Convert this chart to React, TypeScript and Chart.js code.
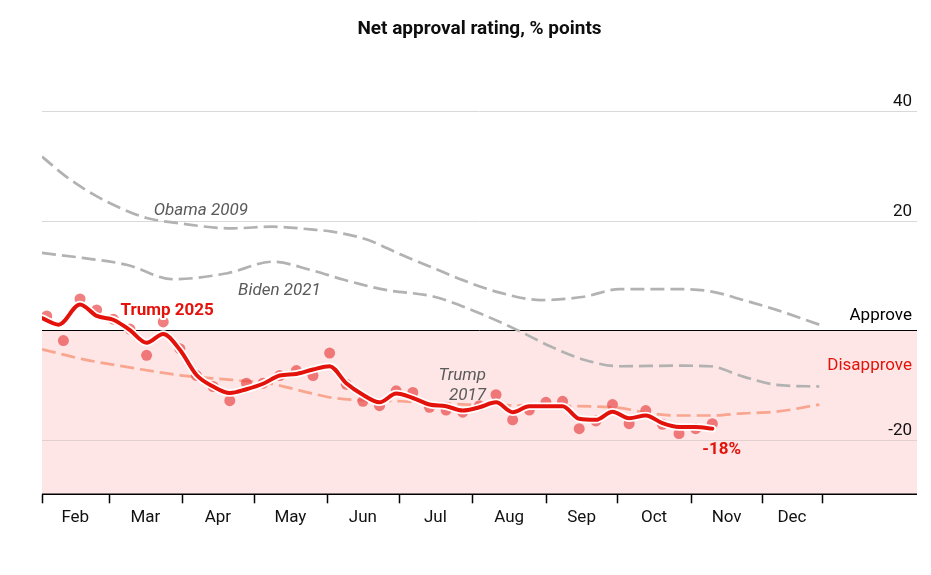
import React, { useEffect, useRef } from "react";
import { Chart, registerables } from "chart.js";

Chart.register(...registerables);

// x values are days counted from 1 February
const monthLabels = ["Feb", "Mar", "Apr", "May", "Jun", "Jul", "Aug", "Sep", "Oct", "Nov", "Dec"];
const monthTickDays = [0, 28, 59, 89, 120, 150, 181, 212, 242, 273, 303, 328];
const yGridValues = [40, 20, -20];
const yTickLabels = ["40", "20", "-20"];

// Trump 2025: weekly poll averages and the smoothed trend
const pollDays = [2, 9, 16, 23, 30, 37, 44, 51, 58, 65, 72, 79, 86, 93, 100, 107, 114, 121, 128, 135, 142, 149, 156, 163, 170, 177, 184, 191, 198, 205, 212, 219, 226, 233, 240, 247, 254, 261, 268, 275, 282];
const trump2025Polls = [2.6, -1.9, 5.7, 3.7, 2.0, 0.2, -4.6, 1.5, -3.4, -8.3, -10.3, -12.9, -9.7, -9.7, -8.3, -7.4, -8.3, -4.2, -9.9, -13.0, -13.8, -11.1, -11.4, -14.1, -14.6, -15.0, -13.8, -11.8, -16.4, -14.6, -13.2, -13.0, -18.0, -16.6, -13.6, -17.1, -14.7, -17.2, -18.9, -18.0, -17.1];
const trendDays = [0, 7, 16, 23, 30, 37, 44, 51, 58, 65, 72, 79, 86, 93, 100, 107, 114, 121, 128, 135, 142, 149, 156, 163, 170, 177, 184, 191, 198, 205, 212, 219, 226, 233, 240, 247, 254, 261, 268, 275, 282];
const trump2025Trend = [2.2, 1.0, 4.7, 2.6, 1.9, 0.0, -2.3, -0.7, -3.6, -8.2, -10.3, -11.5, -10.8, -9.8, -8.3, -8.0, -7.2, -6.6, -9.7, -11.8, -13.2, -11.6, -12.4, -13.6, -13.9, -14.7, -14.1, -13.2, -15.0, -13.9, -13.9, -13.9, -16.2, -16.4, -14.9, -16.1, -15.6, -17.0, -17.7, -17.7, -18.0];

// Earlier first years, same point in the term
const obamaDays = [0, 10, 22, 33, 44, 58, 80, 97, 113, 122, 137, 151, 165, 176, 193, 210, 228, 243, 267, 281, 295, 309, 327];
const obama2009 = [31.7, 28.1, 24.7, 22.3, 20.5, 19.5, 18.6, 18.9, 18.4, 18.0, 16.5, 13.8, 11.3, 9.3, 6.8, 5.5, 6.1, 7.5, 7.5, 7.1, 5.5, 3.7, 1.0];
const bidenDays = [0, 17, 36, 55, 78, 97, 113, 127, 144, 165, 179, 200, 214, 228, 243, 267, 281, 295, 309, 327];
const biden2021 = [14.1, 13.2, 11.9, 9.3, 10.4, 12.5, 11.0, 9.2, 7.4, 6.1, 4.0, 0.0, -3.0, -5.4, -6.6, -6.5, -6.6, -8.5, -10.0, -10.3];
const trump2017Days = [0, 17, 38, 59, 80, 95, 113, 123, 151, 179, 207, 243, 253, 267, 281, 295, 309, 327];
const trump2017 = [-3.5, -5.3, -6.9, -8.3, -9.1, -9.7, -11.5, -12.4, -13.0, -13.6, -13.8, -14.2, -15.0, -15.6, -15.6, -15.2, -14.9, -13.6];

const FONT = "Roboto, 'Liberation Sans', Arial, sans-serif";
const RED = "#e3120b";
const GREY_LINE = "#b2b2b2";
const SALMON = "#f9a58f";
const PINK = "#fde6e5";
const DASH = [14, 6];

const toPoints = (xs: number[], ys: number[]) => xs.map((x, i) => ({ x, y: ys[i] }));

const decorations = {
  id: "decorations",
  beforeDatasetsDraw(chart: any) {
    const { ctx, chartArea, scales } = chart;
    const { left, right, bottom } = chartArea;
    const x = scales.x;
    const y = scales.y;
    const y0 = Math.round(y.getPixelForValue(0));
    ctx.save();

    // disapproval zone
    ctx.fillStyle = PINK;
    ctx.fillRect(left, y0, right - left, bottom - y0);

    // horizontal grid lines and their labels
    ctx.lineWidth = 1;
    ctx.font = `17px ${FONT}`;
    ctx.textAlign = "right";
    ctx.textBaseline = "alphabetic";
    yGridValues.forEach((v, i) => {
      const py = Math.round(y.getPixelForValue(v)) + 0.5;
      ctx.strokeStyle = v < 0 ? "#e2cfd0" : "#d9d9d9";
      ctx.beginPath();
      ctx.moveTo(left, py);
      ctx.lineTo(right, py);
      ctx.stroke();
      ctx.fillStyle = "#111";
      ctx.fillText(yTickLabels[i], right - 5, py - 6);
    });

    // zero line
    ctx.strokeStyle = "#000";
    ctx.beginPath();
    ctx.moveTo(left, y0 + 0.5);
    ctx.lineTo(right, y0 + 0.5);
    ctx.stroke();
    ctx.fillStyle = "#000";
    ctx.fillText("Approve", right - 5, y0 - 10);
    ctx.fillStyle = RED;
    ctx.fillText("Disapprove", right - 5, y0 + 40);

    // x axis line, month ticks and labels
    ctx.strokeStyle = "#000";
    ctx.lineWidth = 1.5;
    ctx.beginPath();
    ctx.moveTo(left, bottom);
    ctx.lineTo(right, bottom);
    ctx.stroke();
    monthTickDays.forEach((d) => {
      const px = Math.round(x.getPixelForValue(d)) + 0.5;
      ctx.beginPath();
      ctx.moveTo(px, bottom);
      ctx.lineTo(px, bottom + 9);
      ctx.stroke();
    });
    ctx.fillStyle = "#111";
    ctx.textAlign = "center";
    monthLabels.forEach((m, i) => {
      const mid = (x.getPixelForValue(monthTickDays[i]) + x.getPixelForValue(monthTickDays[i + 1])) / 2;
      ctx.fillText(m, mid, bottom + 28);
    });

    // title
    ctx.font = `bold 19px ${FONT}`;
    ctx.fillStyle = "#0d0d0d";
    ctx.fillText("Net approval rating, % points", (left + right) / 2, 34);
    ctx.restore();
  },
  afterDatasetsDraw(chart: any) {
    const { ctx, scales } = chart;
    const x = scales.x;
    const y = scales.y;
    ctx.save();
    ctx.textBaseline = "alphabetic";
    ctx.textAlign = "left";

    ctx.font = `italic 17px ${FONT}`;
    ctx.fillStyle = "#5a5a5a";
    ctx.fillText("Obama 2009", x.getPixelForValue(47), y.getPixelForValue(21.1));
    ctx.fillText("Biden 2021", x.getPixelForValue(82.5), y.getPixelForValue(6.5));
    ctx.textAlign = "right";
    ctx.fillText("Trump", x.getPixelForValue(186.8), y.getPixelForValue(-9.1));
    ctx.fillText("2017", x.getPixelForValue(186.8), y.getPixelForValue(-12.7));

    ctx.font = `bold 17px ${FONT}`;
    ctx.textAlign = "left";
    ctx.fillStyle = RED;
    ctx.lineJoin = "round";
    ctx.lineWidth = 4;
    ctx.strokeStyle = "#fff";
    const tx = x.getPixelForValue(33);
    const ty = y.getPixelForValue(2.8);
    ctx.strokeText("Trump 2025", tx, ty);
    ctx.fillText("Trump 2025", tx, ty);

    const lastDay = trendDays[trendDays.length - 1];
    const last = trump2025Trend[trump2025Trend.length - 1];
    ctx.fillText(`${Math.round(last)}%`, x.getPixelForValue(lastDay) - 10, y.getPixelForValue(last) + 25);
    ctx.restore();
  },
};

export default function App() {
  const canvasRef = useRef<HTMLCanvasElement | null>(null);

  useEffect(() => {
    const canvas = canvasRef.current;
    if (!canvas) return;
    const dashed = (label: string, xs: number[], ys: number[], color: string, order: number) => ({
      label,
      data: toPoints(xs, ys),
      borderColor: color,
      borderWidth: 2.7,
      borderDash: DASH,
      pointRadius: 0,
      cubicInterpolationMode: "monotone" as const,
      fill: false,
      order,
    });
    const chart = new Chart(canvas, {
      type: "line",
      data: {
        datasets: [
          dashed("Obama 2009", obamaDays, obama2009, GREY_LINE, 6),
          dashed("Biden 2021", bidenDays, biden2021, GREY_LINE, 5),
          dashed("Trump 2017", trump2017Days, trump2017, SALMON, 4),
          {
            label: "Trump 2025 polls",
            data: toPoints(pollDays, trump2025Polls),
            showLine: false,
            pointRadius: 5.5,
            pointBorderWidth: 0,
            pointBackgroundColor: "rgba(232, 60, 60, 0.65)",
            order: 3,
          },
          {
            label: "Trump 2025 halo",
            data: toPoints(trendDays, trump2025Trend),
            borderColor: "#ffffff",
            borderWidth: 7.5,
            pointRadius: 0,
            cubicInterpolationMode: "monotone",
            borderCapStyle: "round",
            order: 2,
          },
          {
            label: "Trump 2025",
            data: toPoints(trendDays, trump2025Trend),
            borderColor: RED,
            borderWidth: 4,
            pointRadius: 0,
            cubicInterpolationMode: "monotone",
            borderCapStyle: "round",
            borderJoinStyle: "round",
            order: 1,
          },
        ],
      },
      options: {
        responsive: false,
        animation: false,
        devicePixelRatio: 1,
        layout: { padding: { left: 42, right: 14, top: 56.5, bottom: 80.7 } },
        scales: {
          x: { type: "linear", min: 0, max: 368.1, display: false },
          y: { type: "linear", min: -30, max: 50, display: false },
        },
        plugins: { legend: { display: false }, tooltip: { enabled: false } },
      },
      plugins: [decorations],
    });
    return () => chart.destroy();
  }, []);

  return (
    <div style={{ position: "fixed", left: 0, top: 0, width: 931, height: 575, background: "#fff" }}>
      <canvas ref={canvasRef} width={931} height={575} />
    </div>
  );
}
